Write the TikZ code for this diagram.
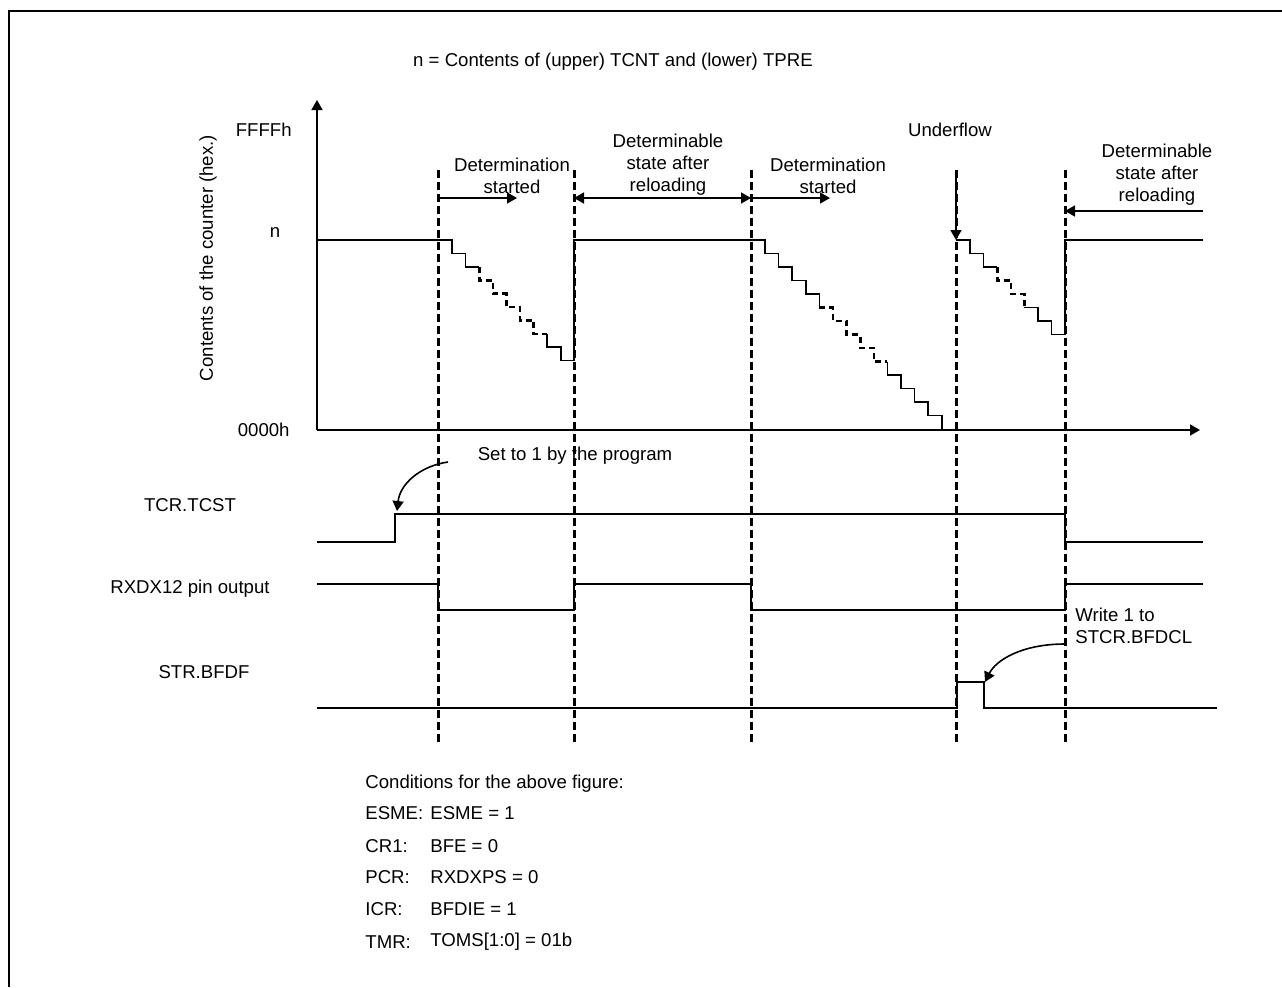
\documentclass[tikz,border=0pt]{standalone}
\usepackage{fontspec}
\setmainfont{Liberation Sans}
\usetikzlibrary{arrows.meta}

\tikzset{
  sig/.style={line width=0.8pt},
  guide/.style={line width=1.5pt,dash pattern=on 4pt off 2pt},
  stairdash/.style={line width=1.3pt,dash pattern=on 3pt off 2pt},
  lbl/.style={font=\fontsize{9.3}{11}\selectfont,inner sep=0pt,align=center},
  tip/.style={-{Triangle[length=5pt,width=5.5pt]},line width=0.8pt},
}

\begin{document}
\begin{tikzpicture}[x=0.5pt,y={(0,-0.5pt)},line join=miter]
  \useasboundingbox (0,0) rectangle (1282,987);
  \draw[line width=1.4pt] (9,987) -- (9,11) -- (1282,11);

  \coordinate (O) at (317,430);
  \coordinate (Ytop) at (317,100);
  \coordinate (Xend) at (1200,430);
  \coordinate (DS1a) at (438,198);
  \coordinate (DS1b) at (517,198);
  \coordinate (DR1a) at (574,198);
  \coordinate (DR1b) at (751,198);
  \coordinate (DS2b) at (830,198);
  \coordinate (DR2a) at (1203,211);
  \coordinate (DR2b) at (1065,211);
  \coordinate (UFa) at (956,170);
  \coordinate (UFb) at (956,240);
  \coordinate (SetA) at (448,462);
  \coordinate (SetB) at (397,511);
  \coordinate (WrA) at (1065,644);
  \coordinate (WrB) at (985,682);

  % axes
  \draw[tip] (O) -- (Ytop);
  \draw[tip] (O) -- (Xend);

  % counter value
  \draw[sig] (317,240) -- (452,240) -- (452,253.4) -- (465.6,253.4) -- (465.6,266.8) -- (479.2,266.8);
  \draw[stairdash] (479.2,266.8) -- (479.2,280.2) -- (492.8,280.2) -- (492.8,293.6) -- (506.4,293.6)
    -- (506.4,307) -- (520,307) -- (520,320.4) -- (533.6,320.4) -- (533.6,333.8) -- (547.2,333.8);
  \draw[sig] (547.2,333.8) -- (547.2,347.2) -- (560.8,347.2) -- (560.8,360.6) -- (574,360.6)
    -- (574,240) -- (765,240) -- (765,253.5) -- (778.6,253.5) -- (778.6,267) -- (792.2,267)
    -- (792.2,280.5) -- (805.8,280.5) -- (805.8,294) -- (819.4,294) -- (819.4,307.5);
  \draw[stairdash] (819.4,307.5) -- (833,307.5) -- (833,321) -- (846.6,321) -- (846.6,334.5)
    -- (860.2,334.5) -- (860.2,348) -- (873.8,348) -- (873.8,361.5) -- (887.4,361.5);
  \draw[sig] (887.4,361.5) -- (887.4,375) -- (901,375) -- (901,388.5) -- (914.6,388.5)
    -- (914.6,402) -- (928.2,402) -- (928.2,415.5) -- (941.8,415.5) -- (941.8,430);
  \draw[sig] (956,240) -- (970,240) -- (970,253.5) -- (983.6,253.5) -- (983.6,267) -- (997.2,267);
  \draw[stairdash] (997.2,267) -- (997.2,280.5) -- (1010.8,280.5) -- (1010.8,294) -- (1024.4,294)
    -- (1024.4,307.5);
  \draw[sig] (1024.4,307.5) -- (1038,307.5) -- (1038,321) -- (1051.6,321) -- (1051.6,334.5)
    -- (1065,334.5) -- (1065,240) -- (1203,240);

  % signals
  \draw[sig] (317,542) -- (395,542) -- (395,514) -- (1065,514) -- (1065,542) -- (1203,542);
  \draw[sig] (317,584) -- (438,584) -- (438,610) -- (574,610) -- (574,584) -- (751,584)
    -- (751,610) -- (1065,610) -- (1065,584) -- (1203,584);
  \draw[sig] (317,708) -- (957,708) -- (957,682) -- (984,682) -- (984,708) -- (1217,708);

  % timing guides
  \foreach \gx in {438,574,751,956,1065}
    \draw[guide] (\gx,170) -- (\gx,743);

  % arrows
  \draw[tip] (DS1a) -- (DS1b);
  \draw[{Triangle[length=5pt,width=5.5pt]}-{Triangle[length=5pt,width=5.5pt]},line width=0.8pt] (DR1a) -- (DR1b);
  \draw[tip] (DR1b) -- (DS2b);
  \draw[tip] (DR2a) -- (DR2b);
  \draw[tip] (UFa) -- (UFb);
  \draw[tip] (SetA) .. controls (420,466) and (400,484) .. (SetB);
  \draw[tip] (WrA) .. controls (1022,644) and (996,660) .. (WrB);

  % labels
  \node[lbl] (title) at (613,62) {n = Contents of (upper) TCNT and (lower) TPRE};
  \node[lbl,anchor=east] (ffff) at (292,130) {FFFFh};
  \node[lbl] (nval) at (275,232) {n};
  \node[lbl,anchor=east] (zero) at (290,430) {0000h};
  \node[lbl,rotate=90] (ylab) at (208,258) {Contents of the counter (hex.)};
  \node[lbl] (detA) at (512,176) {Determination\\started};
  \node[lbl] (reloadA) at (668,165) {Determinable\\state after\\reloading};
  \node[lbl] (detB) at (828,176) {Determination\\started};
  \node[lbl] (uflow) at (950,130) {Underflow};
  \node[lbl] (reloadB) at (1157,175) {Determinable\\state after\\reloading};
  \node[lbl] (setlbl) at (575,456) {Set to 1 by the program};
  \node[lbl,anchor=west,align=left] (wrlbl) at (1075,626) {Write 1 to\\STCR.BFDCL};
  \node[lbl] (tcst) at (190,505) {TCR.TCST};
  \node[lbl] (rxd) at (190,589) {RXDX12 pin output};
  \node[lbl] (bfdf) at (204,672) {STR.BFDF};

  % conditions
  \node[lbl,anchor=west] (cond) at (365,784) {Conditions for the above figure:};
  \node[lbl,anchor=west] (r1) at (365,813) {ESME:};
  \node[lbl,anchor=west] (v1) at (430,813) {ESME = 1};
  \node[lbl,anchor=west] (r2) at (365,846) {CR1:};
  \node[lbl,anchor=west] (v2) at (430,846) {BFE = 0};
  \node[lbl,anchor=west] (r3) at (365,877) {PCR:};
  \node[lbl,anchor=west] (v3) at (430,877) {RXDXPS = 0};
  \node[lbl,anchor=west] (r4) at (365,909) {ICR:};
  \node[lbl,anchor=west] (v4) at (430,909) {BFDIE = 1};
  \node[lbl,anchor=west] (r5) at (365,942) {TMR:};
  \node[lbl,anchor=west] (v5) at (430,942) {TOMS[1:0] = 01b};
\end{tikzpicture}
\end{document}
